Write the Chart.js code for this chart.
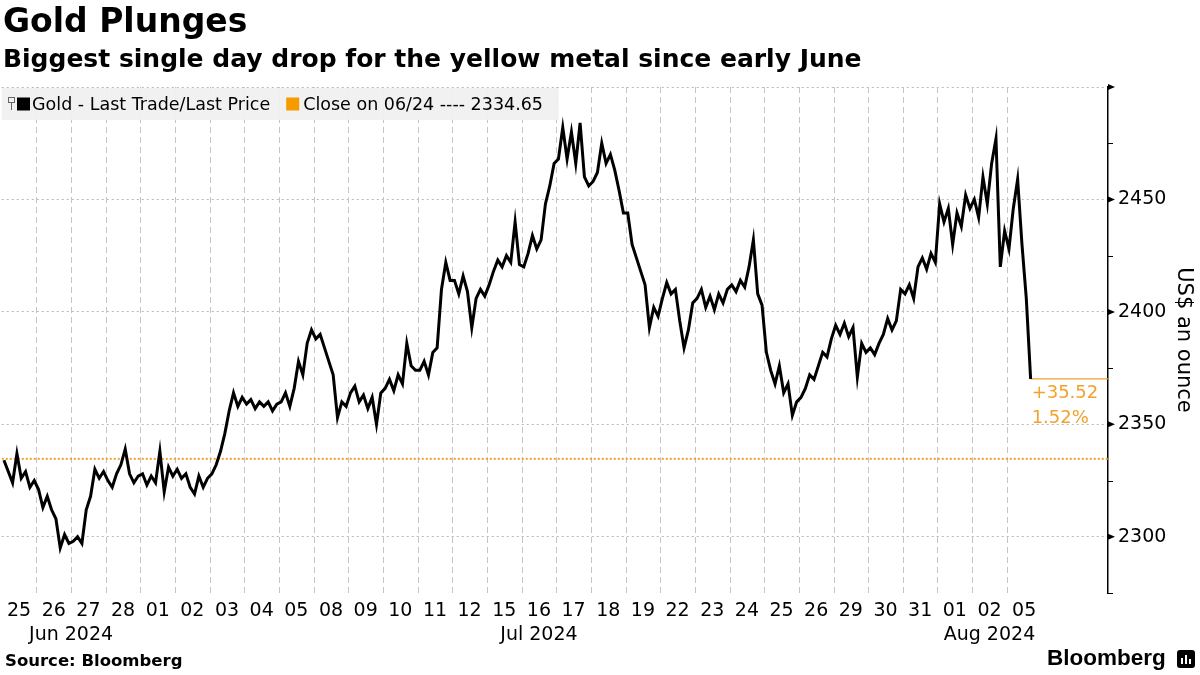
<!DOCTYPE html>
<html><head><meta charset="utf-8">
<script src="https://cdn.jsdelivr.net/npm/chart.js@4.4.1/dist/chart.umd.min.js"></script>
<style>
html,body{margin:0;padding:0;background:#fff;}
#wrap{position:relative;width:1200px;height:675px;overflow:hidden;background:#fff;}
#c{position:absolute;left:0;top:0;}
.t{position:absolute;white-space:nowrap;line-height:1;color:#000;}
#title{left:3px;top:4px;font-weight:bold;font-size:33px;font-family:"DejaVu Sans";}
#sub{left:3px;top:46px;font-weight:bold;font-size:25px;font-family:"DejaVu Sans";}
#src{left:5px;top:653px;font-weight:bold;font-size:16.5px;font-family:"DejaVu Sans";}
#logo{left:1047px;top:647px;font-weight:bold;font-size:22.5px;font-family:"Liberation Sans";}
#icon{position:absolute;left:1177px;top:650px;width:18px;height:18px;background:#000;border-radius:3px;}
#icon i{position:absolute;bottom:4px;width:2px;background:#fff;}
</style></head>
<body><div id="wrap">
<canvas id="c" width="1200" height="675"></canvas>
<div class="t" id="title">Gold Plunges</div>
<div class="t" id="sub">Biggest single day drop for the yellow metal since early June</div>
<div class="t" id="src">Source: Bloomberg</div>
<div class="t" id="logo">Bloomberg</div>
<div id="icon"><i style="left:4px;height:6px"></i><i style="left:8px;height:9px"></i><i style="left:12px;height:5px"></i></div>
</div>
<script>
// ---------- data ----------
const dayLabels = ['25','26','27','28','01','02','03','04','05','08','09','10','11','12','15','16','17','18','19','22','23','24','25','26','29','30','31','01','02','05'];
const monthLabels = ['Jun 2024','Jul 2024','Aug 2024'];
const monthFirstDay = [0, 4, 27];
const samplesPerDay = 8;
const seriesName = 'Gold - Last Trade/Last Price';
const closeName = 'Close on 06/24 ---- 2334.65';
const closeJun24 = 2334.65;
const yTickValues = [2275,2300,2325,2350,2375,2400,2425,2450,2475,2500];
const yLabelValues = [2300,2350,2400,2450];

// intraday prices, 8 samples per trading day
const jun25to28 = [
  2334,2329,2324,2337,2326,2329,2322,2325,
  2321,2313,2318,2312,2308,2295,2301,2297,
  2298,2300,2297,2312,2318,2330,2326,2329,
  2325,2322,2328,2332,2339,2328,2324,2327];
const jul01to05 = [
  2328,2323,2327,2324,2338,2320,2331,2327,
  2330,2326,2328,2322,2319,2327,2322,2326,
  2328,2332,2338,2346,2356,2364,2358,2362,
  2359,2361,2357,2360,2358,2360,2356,2359,
  2360,2364,2358,2366,2378,2372,2386,2392];
const jul08to12 = [
  2388,2390,2384,2378,2372,2353,2360,2358,
  2364,2367,2360,2363,2357,2362,2350,2364,
  2366,2370,2365,2372,2368,2386,2376,2374,
  2374,2378,2372,2382,2384,2410,2422,2414,
  2414,2408,2416,2409,2393,2406,2410,2407];
const jul15to19 = [
  2412,2418,2423,2420,2425,2422,2440,2421,
  2420,2426,2434,2428,2432,2448,2456,2466,
  2468,2482,2468,2480,2466,2484,2460,2456,
  2458,2462,2475,2466,2470,2463,2454,2444,
  2444,2430,2424,2418,2412,2393,2402,2398];
const jul22to26 = [
  2406,2413,2408,2410,2396,2384,2392,2404,
  2406,2410,2402,2407,2401,2408,2404,2410,
  2412,2409,2414,2411,2420,2432,2408,2403,
  2382,2374,2368,2376,2364,2368,2354,2360,
  2362,2366,2372,2370,2376,2382,2380,2388];
const jul29toAug02 = [
  2394,2390,2395,2389,2393,2371,2386,2382,
  2384,2381,2386,2390,2397,2392,2396,2410,
  2408,2412,2406,2420,2424,2419,2426,2422,
  2448,2440,2446,2430,2444,2438,2452,2446,
  2450,2442,2460,2448,2466,2477,2420,2436];
const aug05 = [2428,2446,2459,2430,2406,2370.17];

// ---------- build ----------
const prices = [].concat(jun25to28, jul01to05, jul08to12, jul15to19, jul22to26, jul29toAug02, aug05);
const goldPoints = prices.map((p, i) => {
  const day = Math.floor(i / samplesPerDay), j = i % samplesPerDay;
  return {x: day - 0.5 + (j + 0.5) / samplesPerDay, y: p};
});
const last = goldPoints[goldPoints.length - 1];
const change = last.y - closeJun24;
const changePct = change / closeJun24 * 100;

const X_MIN = -0.5, X_MAX = 31.42;
const ORANGE = '#F2A22C';
const FONT = 'DejaVu Sans';

const decor = {
  id: 'decor',
  beforeDatasetsDraw(chart) {
    const {ctx, chartArea: a, scales: {x}} = chart;
    ctx.save();
    ctx.strokeStyle = '#c4c4c4';
    ctx.lineWidth = 1;
    ctx.setLineDash([6, 4]);
    for (let k = 0; k < dayLabels.length - 1; k++) {
      const px = Math.round(x.getPixelForValue(k + 0.5)) + 0.5;
      ctx.beginPath(); ctx.moveTo(px, a.top); ctx.lineTo(px, a.bottom); ctx.stroke();
    }
    ctx.restore();
  },
  afterDatasetsDraw(chart) {
    const {ctx, chartArea: a, scales: {x, y}} = chart;
    ctx.save();
    // legend
    ctx.font = '17.5px "' + FONT + '"';
    const w1 = ctx.measureText(seriesName).width;
    const w2 = ctx.measureText(closeName).width;
    const bx0 = a.left, by0 = a.top + 1, bh = 32;
    const t1x = 32, sq2 = t1x + w1 + 16, t2x = sq2 + 17;
    const bw = t2x + w2 + 14;
    ctx.fillStyle = 'rgba(240,240,240,0.93)';
    ctx.fillRect(bx0, by0, bw, bh);
    const cy = by0 + bh / 2;
    ctx.strokeStyle = '#666'; ctx.lineWidth = 1;
    ctx.strokeRect(8.5, cy - 6.5, 6, 5);
    ctx.beginPath(); ctx.moveTo(11.5, cy - 1.5); ctx.lineTo(11.5, cy + 6); ctx.stroke();
    ctx.fillStyle = '#000';
    ctx.fillRect(17, cy - 6.5, 13, 13);
    ctx.fillStyle = '#F59B00';
    ctx.fillRect(sq2, cy - 6.5, 13, 13);
    ctx.fillStyle = '#000';
    ctx.textBaseline = 'middle';
    ctx.fillText(seriesName, t1x, cy + 1);
    ctx.fillText(closeName, t2x, cy + 1);

    // right axis tick marks
    const ax = y.left;
    yTickValues.forEach(v => {
      const py = y.getPixelForValue(v);
      ctx.fillStyle = '#000'; ctx.strokeStyle = '#000';
      if (v % 50 === 0) {
        ctx.beginPath(); ctx.moveTo(ax, py - 3); ctx.lineTo(ax + 7, py); ctx.lineTo(ax, py + 3); ctx.closePath(); ctx.fill();
      } else {
        ctx.lineWidth = 1;
        ctx.beginPath(); ctx.moveTo(ax, Math.round(py) + 0.5); ctx.lineTo(ax + 5, Math.round(py) + 0.5); ctx.stroke();
      }
    });

    // month labels
    ctx.font = '19px "' + FONT + '"';
    ctx.fillStyle = '#000';
    ctx.textAlign = 'center';
    monthLabels.forEach((m, i) => {
      const from = monthFirstDay[i];
      const to = i + 1 < monthFirstDay.length ? monthFirstDay[i + 1] - 1 : dayLabels.length - 1;
      const cx = (x.getPixelForValue(from - 0.5) + x.getPixelForValue(to + 0.5)) / 2;
      ctx.fillText(m, cx, a.bottom + 42);
    });

    // change annotation
    ctx.textAlign = 'left';
    ctx.fillStyle = ORANGE;
    ctx.font = '18px "' + FONT + '"';
    const lx = x.getPixelForValue(last.x) + 1, ly = y.getPixelForValue(last.y);
    ctx.fillText((change >= 0 ? '+' : '') + change.toFixed(2), lx, ly + 14);
    ctx.fillText(changePct.toFixed(2) + '%', lx, ly + 39);
    ctx.restore();
  }
};

Chart.defaults.font.family = FONT;
new Chart(document.getElementById('c'), {
  type: 'line',
  data: {
    datasets: [
      {label: seriesName, data: goldPoints, borderColor: '#000', borderWidth: 3, pointRadius: 0, tension: 0, order: 1, borderJoinStyle: 'miter'},
      {label: 'lastline', data: [{x: last.x, y: last.y}, {x: X_MAX, y: last.y}], borderColor: ORANGE, borderWidth: 1.3, pointRadius: 0, order: 2},
      {label: closeName, data: [{x: X_MIN, y: closeJun24}, {x: X_MAX, y: closeJun24}], borderColor: ORANGE, borderWidth: 2, borderDash: [2, 2], pointRadius: 0, order: 3}
    ]
  },
  options: {
    responsive: false, animation: false, devicePixelRatio: 1,
    layout: {padding: {top: 87, left: 0, right: 0, bottom: 0}},
    plugins: {legend: {display: false}, tooltip: {enabled: false}},
    scales: {
      x: {
        type: 'linear', min: X_MIN, max: X_MAX,
        afterBuildTicks: s => { s.ticks = dayLabels.map((_, i) => ({value: i})); },
        afterFit: s => { s.height = 82; },
        ticks: {callback: v => dayLabels[v] ?? '', autoSkip: false, maxRotation: 0, color: '#000', font: {size: 19}, padding: 7},
        grid: {display: false, drawTicks: false},
        border: {display: false}
      },
      y: {
        type: 'linear', position: 'right', min: 2275, max: 2500,
        afterBuildTicks: s => { s.ticks = yTickValues.map(v => ({value: v})); },
        afterFit: s => { s.width = 92; },
        ticks: {callback: v => yLabelValues.includes(v) ? String(v) : '', color: '#000', font: {size: 19}, padding: 10, autoSkip: false},
        grid: {drawTicks: false, lineWidth: 1, color: c => (c.tick && c.tick.value % 50 === 0) ? '#b8b8b8' : 'rgba(0,0,0,0)'},
        border: {display: true, color: '#000', width: 1.5, dash: [2, 3]},
        title: {display: true, text: 'US$ an ounce', color: '#000', font: {size: 21}, padding: {top: 4, bottom: 0}}
      }
    }
  },
  plugins: [decor]
});
</script>
</body></html>
